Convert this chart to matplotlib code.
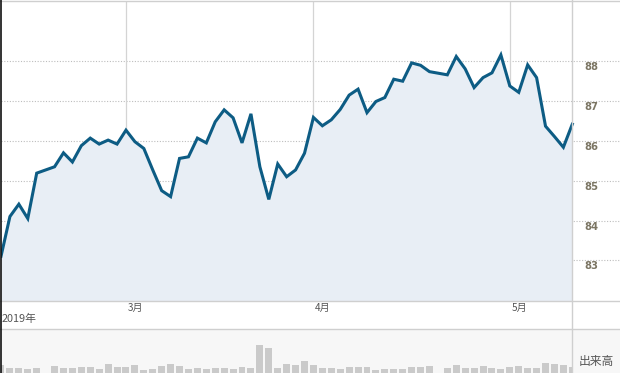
import numpy as np
import matplotlib
matplotlib.use("Agg")
import matplotlib.pyplot as plt
from matplotlib.lines import Line2D
from matplotlib.patches import Rectangle


# ── Data ──────────────────────────────────────────────────────────────────────

CLOSE = [
    83.10, 84.10, 84.41, 84.05, 85.19, 85.27, 85.35, 85.70, 85.47, 85.88,
    86.07, 85.92, 86.02, 85.92, 86.27, 85.98, 85.81, 85.27, 84.75, 84.60,
    85.56, 85.60, 86.07, 85.95, 86.48, 86.78, 86.58, 85.95, 86.68, 85.35,
    84.53, 85.42, 85.10, 85.27, 85.69, 86.59, 86.38, 86.53, 86.79, 87.15,
    87.30, 86.71, 86.99, 87.09, 87.55, 87.50, 87.96, 87.90, 87.74, 87.70,
    87.66, 88.12, 87.81, 87.34, 87.59, 87.71, 88.16, 87.38, 87.22, 87.91,
    87.59, 86.37, 86.11, 85.84, 86.42,
]

VOLUME = [
    15, 12, 12, 11, 12, 5, 14, 12, 12, 13,
    13, 11, 16, 13, 13, 15, 10, 11, 14, 16,
    14, 11, 12, 11, 12, 12, 11, 13, 12, 35,
    32, 12, 16, 15, 19, 15, 12, 12, 11, 13,
    13, 13, 10, 11, 11, 11, 13, 13, 14, 5,
    12, 15, 12, 12, 14, 12, 11, 13, 14, 12,
    12, 17, 16, 15, 13,
]

MONTH_IDX = [14, 35, 57]           # first trading day of each month
MONTH_LABELS = ["3月", "4月", "5月"]
YEAR_LABEL = "2019年"
PRICE_TICKS = [83, 84, 85, 86, 87, 88]
VOLUME_LABEL = "出来高"

# ── Layout (pixels of a 620x373 canvas) ───────────────────────────────────────

W, H = 620, 373
X0, X_LAST = 1.0, 572.3            # pixel of first / last point
PLOT_TOP, PLOT_BOTTOM = 1, 301
VOL_TOP, VOL_BOTTOM = 329, 380     # volume panel runs past the bottom edge
DIVIDER_X = 572
Y88, Y83 = 61.3, 260.3             # pixel rows of the 88 and 83 gridlines

LINE_COLOR = "#0d5c84"
FILL_COLOR = "#e8eef5"
GRID_COLOR = "#bdbdbd"
BORDER_COLOR = "#cfcfcf"
TICK_COLOR = "#7b7563"
TEXT_COLOR = "#555555"

# ──────────────────────────────────────────────────────────────────────────────

plt.rcParams["font.family"] = ["DejaVu Sans", "Noto Sans CJK JP"]
CJK = ["Noto Sans CJK JP", "DejaVu Sans"]


def fx(px):
    return px / W


def fy(py):
    return (H - py) / H


def main():
    close = np.array(CLOSE)
    volume = np.array(VOLUME)
    x = np.arange(len(close))
    n_last = len(close) - 1

    px_per_day = (X_LAST - X0) / n_last
    x_right = n_last + (W - X_LAST) / px_per_day
    px_per_unit = (Y83 - Y88) / 5
    y_top = 88 + (Y88 - PLOT_TOP) / px_per_unit
    y_bottom = 83 - (PLOT_BOTTOM - Y83) / px_per_unit

    fig = plt.figure(figsize=(W / 100, H / 100), dpi=100)
    fig.patch.set_facecolor("white")

    # volume strip background
    fig.patches.append(Rectangle((0, 0), 1, fy(VOL_TOP), transform=fig.transFigure,
                                 facecolor="#f7f7f7", edgecolor="none", zorder=-5))

    # price panel
    ax = fig.add_axes([fx(X0), fy(PLOT_BOTTOM), fx(W - X0), fy(PLOT_TOP) - fy(PLOT_BOTTOM)])
    ax.set_xlim(0, x_right)
    ax.set_ylim(y_bottom, y_top)
    ax.set_facecolor("none")
    for s in ax.spines.values():
        s.set_visible(False)
    ax.set_xticks([])
    ax.set_yticks([])

    for v in PRICE_TICKS:
        ax.axhline(v, color=GRID_COLOR, lw=0.8, ls=(0, (1, 1.5)), zorder=1)
        ax.annotate(str(v), xy=(fx(584 - X0) / fx(W - X0), v),
                    xycoords=("axes fraction", "data"),
                    xytext=(0, -6), textcoords="offset pixels",
                    ha="left", va="center", fontsize=7.2, fontweight="bold",
                    color=TICK_COLOR)
    for i in MONTH_IDX:
        ax.axvline(i, color="#d4d4d4", lw=0.9, zorder=1)

    ax.fill_between(x, close, y_bottom, color=FILL_COLOR, lw=0, zorder=2)
    ax.plot(x, close, color=LINE_COLOR, lw=2.2, solid_joinstyle="miter", zorder=3)

    for i, lab in zip(MONTH_IDX, MONTH_LABELS):
        ax.annotate(lab, xy=(i, 0), xycoords=("data", "axes fraction"),
                    xytext=(1.5, -7), textcoords="offset pixels",
                    ha="left", va="center", fontsize=7.2, color=TEXT_COLOR,
                    family=CJK, annotation_clip=False)

    # volume panel
    vax = fig.add_axes([fx(X0), fy(VOL_BOTTOM), fx(X_LAST - X0), fy(VOL_TOP) - fy(VOL_BOTTOM)])
    vax.set_xlim(0, n_last)
    vax.set_ylim(0, VOL_BOTTOM - VOL_TOP)
    vax.set_facecolor("none")
    vax.axis("off")
    vax.bar(x, volume, width=0.78, color="#cacaca", lw=0)

    fig.text(fx(2), fy(319), YEAR_LABEL, ha="left", va="center", fontsize=7.8,
             color=TEXT_COLOR, family=CJK)
    fig.text(fx(579), fy(361), VOLUME_LABEL, ha="left", va="center", fontsize=8.5,
             color=TEXT_COLOR, family=CJK)

    # frame lines
    lines = [
        ([fx(DIVIDER_X), fx(DIVIDER_X)], [0, 1], BORDER_COLOR, 1.0),
        ([0, 1], [fy(PLOT_BOTTOM), fy(PLOT_BOTTOM)], BORDER_COLOR, 1.0),
        ([0, 1], [fy(VOL_TOP), fy(VOL_TOP)], BORDER_COLOR, 1.0),
        ([0, 1], [fy(0.5), fy(0.5)], BORDER_COLOR, 1.0),
        ([fx(0.7), fx(0.7)], [0, 1], "#111111", 1.2),
    ]
    for xs, ys, c, lw in lines:
        fig.lines.append(Line2D(xs, ys, transform=fig.transFigure, color=c, lw=lw))

    fig.savefig("out.png", dpi=100)


if __name__ == "__main__":
    main()
